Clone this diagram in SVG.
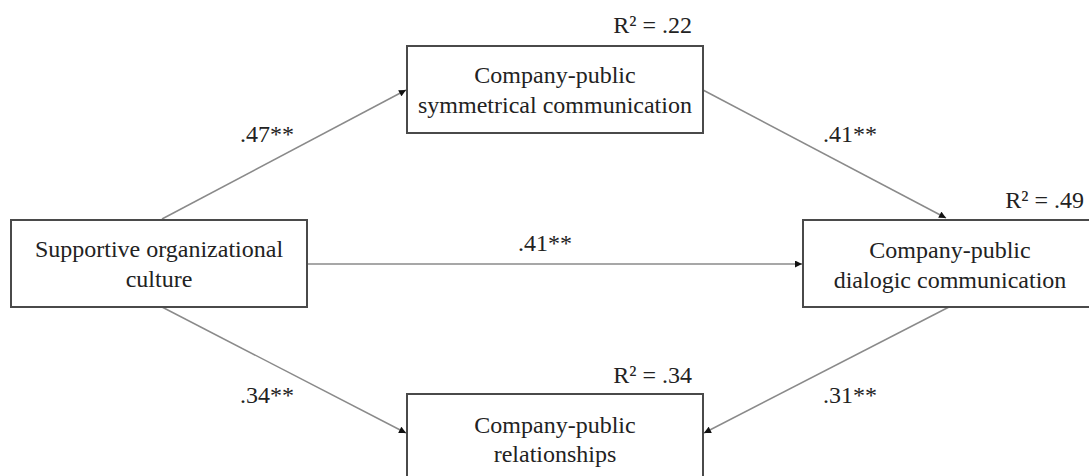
<svg xmlns="http://www.w3.org/2000/svg" width="1089" height="476" viewBox="0 0 1089 476">
<style>
.box{fill:#fff;stroke:#4a4a4a;stroke-width:2}
.t{font-family:"Liberation Serif","Times New Roman",serif;font-size:24px;fill:#222}
.m{text-anchor:middle}
.e{text-anchor:end}
.c{stroke:#8a8a8a;stroke-width:1.5;fill:none;marker-end:url(#ah)}
</style>
<defs>
<marker id="ah" viewBox="0 0 10 10" refX="10" refY="5" markerWidth="8" markerHeight="7" markerUnits="userSpaceOnUse" orient="auto">
<path d="M0,0 L10,5 L0,10 z" fill="#111"/>
</marker>
</defs>
<rect width="1089" height="476" fill="#fff"/>
<g id="connectors">
<line class="c" x1="162" y1="219" x2="406" y2="90"/>
<line class="c" x1="703" y1="90" x2="946" y2="218"/>
<line class="c" x1="307" y1="264" x2="802" y2="264"/>
<line class="c" x1="162" y1="307" x2="406" y2="433"/>
<line class="c" x1="949" y1="307" x2="704" y2="433"/>
<text class="t" x="240" y="142">.47**</text>
<text class="t" x="823" y="142">.41**</text>
<text class="t" x="518" y="251">.41**</text>
<text class="t" x="240" y="403">.34**</text>
<text class="t" x="823" y="403">.31**</text>
</g>
<g id="culture">
<rect class="box" x="11" y="220" width="296" height="87"/>
<text class="t m" x="159" y="257">Supportive organizational</text>
<text class="t m" x="159" y="287">culture</text>
</g>
<g id="symmetrical">
<rect class="box" x="407" y="46" width="296" height="87"/>
<text class="t e" x="692" y="33">R² = .22</text>
<text class="t m" x="555" y="83">Company-public</text>
<text class="t m" x="555" y="113">symmetrical communication</text>
</g>
<g id="dialogic">
<rect class="box" x="803" y="220" width="300" height="87"/>
<text class="t e" x="1084" y="208">R² = .49</text>
<text class="t m" x="950" y="258">Company-public</text>
<text class="t m" x="950" y="288">dialogic communication</text>
</g>
<g id="relationships">
<rect class="box" x="407" y="394" width="296" height="100"/>
<text class="t e" x="692" y="383">R² = .34</text>
<text class="t m" x="555" y="433">Company-public</text>
<text class="t m" x="555" y="462">relationships</text>
</g>
</svg>
